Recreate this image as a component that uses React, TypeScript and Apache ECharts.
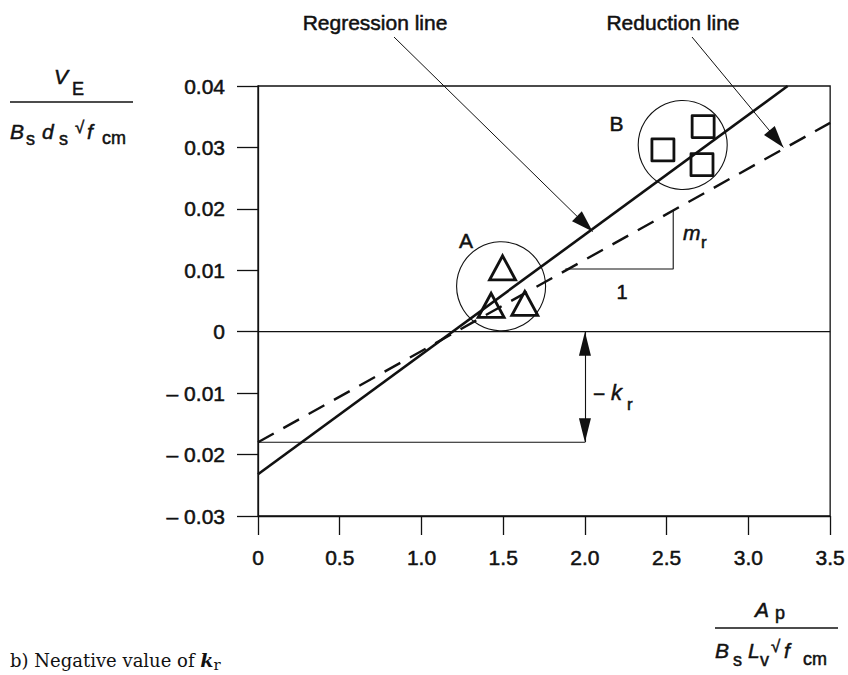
import React, { useEffect, useRef } from 'react';
import * as echarts from 'echarts';

// ---- data ----
const xTickLabels = ['0', '0.5', '1.0', '1.5', '2.0', '2.5', '3.0', '3.5'];
const yTickLabels = ['– 0.03', '– 0.02', '– 0.01', '0', '0.01', '0.02', '0.03', '0.04'];

const regressionLine = [[0, -0.0232], [3.24, 0.04]];
const reductionLine = [[0, -0.018], [3.5, 0.034]];
const zeroLine = [[0, 0], [3.5, 0]];
const slopeTriangle = [[1.88, 0.0102], [2.54, 0.0102], [2.54, 0.0198]];
const krBase = [[0, -0.018], [2.0, -0.018]];

const groupA = [[1.496, 0.0104], [1.426, 0.0043], [1.632, 0.0046]];
const groupB = [[2.477, 0.0296], [2.723, 0.0334], [2.716, 0.0272]];
const groupCircles = [[1.487, 0.0074], [2.598, 0.0304]];
const groupLabels = [
  { name: 'A', value: [1.272, 0.0149] },
  { name: 'B', value: [2.193, 0.0339] },
];

const INK = '#111';
const FONT = "'Liberation Sans', Arial, Helvetica, sans-serif";
const SERIF = "'DejaVu Serif', 'Liberation Serif', serif";
const HEAVY = { textBorderColor: INK, textBorderWidth: 0.5 };

function t(text: string, x: number, y: number, size: number, opts: any = {}) {
  return {
    type: 'text',
    x,
    y,
    silent: true,
    style: {
      text,
      fontSize: size,
      fontFamily: opts.family || FONT,
      fontStyle: opts.italic ? 'italic' : 'normal',
      fontWeight: opts.bold ? 'bold' : 'normal',
      fill: INK,
      stroke: opts.noStroke ? undefined : INK,
      lineWidth: opts.noStroke ? 0 : 0.5,
      align: opts.align || 'left',
      verticalAlign: 'middle',
      textAlign: opts.align || 'left',
      textVerticalAlign: 'middle',
      rich: opts.rich,
    },
  };
}

function hline(x1: number, x2: number, y: number, w = 1.5) {
  return {
    type: 'line',
    silent: true,
    shape: { x1, y1: y, x2, y2: y },
    style: { stroke: INK, lineWidth: w },
  };
}

export default function App() {
  const ref = useRef<HTMLDivElement>(null);

  useEffect(() => {
    const chart = echarts.init(ref.current!, null, { renderer: 'svg' });

    const arrowEnd = (coord: number[]) => ({
      coord,
      symbol: 'triangle',
      symbolSize: [14, 22],
      symbolOffset: [0, 11],
    });

    const option: any = {
      animation: false,
      backgroundColor: '#fff',
      grid: {
        left: 258,
        right: 12,
        top: 86,
        bottom: 159,
        show: true,
        borderColor: INK,
        borderWidth: 1.3,
        backgroundColor: 'transparent',
      },
      xAxis: {
        type: 'value',
        min: 0,
        max: 3.5,
        interval: 0.5,
        axisLine: { show: true, onZero: false, lineStyle: { color: INK, width: 1.3 } },
        axisTick: { show: true, inside: false, length: 19, lineStyle: { color: INK, width: 1.3 } },
        splitLine: { show: false },
        axisLabel: {
          margin: 31,
          fontSize: 21,
          fontFamily: FONT,
          color: INK,
          ...HEAVY,
          formatter: (v: number) => xTickLabels[Math.round(v / 0.5)] ?? '',
        },
      },
      yAxis: {
        type: 'value',
        min: -0.03,
        max: 0.04,
        interval: 0.01,
        axisLine: { show: true, onZero: false, lineStyle: { color: INK, width: 1.3 } },
        axisTick: { show: true, inside: false, length: 21, lineStyle: { color: INK, width: 1.3 } },
        splitLine: { show: false },
        axisLabel: {
          margin: 33,
          fontSize: 21,
          fontFamily: FONT,
          color: INK,
          ...HEAVY,
          formatter: (v: number) => yTickLabels[Math.round((v + 0.03) / 0.01)] ?? '',
        },
      },
      series: [
        {
          type: 'line',
          data: regressionLine,
          symbol: 'none',
          silent: true,
          z: 4,
          lineStyle: { color: INK, width: 2.6 },
          markLine: {
            silent: true,
            symbol: ['none', 'triangle'],
            label: { show: false },
            lineStyle: { color: INK, width: 1, type: 'solid' },
            itemStyle: { color: INK },
            emphasis: { disabled: true },
            data: [
              [{ x: 394, y: 37 }, arrowEnd([2.047, 0.0163])],
              [{ x: 692, y: 37 }, arrowEnd([3.214, 0.0300])],
            ],
          },
        },
        {
          type: 'line',
          data: reductionLine,
          symbol: 'none',
          silent: true,
          z: 4,
          lineStyle: { color: INK, width: 2.4, type: [18, 11] },
        },
        {
          type: 'line',
          data: slopeTriangle,
          symbol: 'none',
          silent: true,
          lineStyle: { color: INK, width: 1.1 },
        },
        {
          type: 'line',
          data: krBase,
          symbol: 'none',
          silent: true,
          lineStyle: { color: INK, width: 1.1 },
          markLine: {
            silent: true,
            symbol: ['triangle', 'triangle'],
            label: { show: false },
            lineStyle: { color: INK, width: 1.1, type: 'solid' },
            itemStyle: { color: INK },
            emphasis: { disabled: true },
            data: [
              [
                { coord: [2.0, 0], symbol: 'triangle', symbolSize: [12, 24], symbolOffset: [0, 12] },
                { coord: [2.0, -0.018], symbol: 'triangle', symbolSize: [12, 24], symbolOffset: [0, 12] },
              ],
            ],
          },
        },
        {
          type: 'line',
          data: zeroLine,
          symbol: 'none',
          silent: true,
          lineStyle: { color: INK, width: 1.3 },
        },
        {
          type: 'scatter',
          data: groupCircles,
          symbol: 'circle',
          symbolSize: 89,
          silent: true,
          itemStyle: { color: 'rgba(0,0,0,0)', borderColor: INK, borderWidth: 1.1, opacity: 1 },
        },
        {
          type: 'scatter',
          data: groupA,
          symbol: 'triangle',
          symbolSize: [26, 24],
          silent: true,
          z: 5,
          itemStyle: { color: 'rgba(0,0,0,0)', borderColor: INK, borderWidth: 2.8, opacity: 1 },
        },
        {
          type: 'scatter',
          data: groupB,
          symbol: 'rect',
          symbolSize: 22,
          silent: true,
          z: 5,
          itemStyle: { color: 'rgba(0,0,0,0)', borderColor: INK, borderWidth: 2.8, opacity: 1, borderJoin: 'round' },
        },
        {
          type: 'scatter',
          data: groupLabels,
          symbol: 'circle',
          symbolSize: 1,
          silent: true,
          itemStyle: { color: 'rgba(0,0,0,0)', opacity: 1 },
          label: {
            show: true,
            position: 'inside',
            formatter: '{b}',
            fontSize: 21,
            fontFamily: FONT,
            color: INK,
            ...HEAVY,
          },
        },
      ],
      graphic: [
        // top annotations
        t('Regression line', 375, 22, 21, { align: 'center' }),
        t('Reduction line', 673, 22, 21, { align: 'center' }),
        // slope triangle labels
        t('m', 683, 232, 21, { italic: true }),
        t('r', 701, 242, 17),
        t('1', 622, 292, 20, { align: 'center' }),
        // -k_r label
        t('−', 593, 393, 21),
        t('k', 611, 392, 22, { italic: true }),
        t('r', 627, 404, 17),
        // y-axis title (fraction)
        t('V', 54, 76, 21, { italic: true }),
        t('E', 72, 89, 18),
        hline(10, 133, 102),
        t('B', 10, 131, 21, { italic: true }),
        t('s', 26, 139, 18),
        t('d', 42, 131, 21, { italic: true }),
        t('s', 59, 139, 18),
        t('√', 75, 127, 17),
        t('f', 87, 131, 21, { italic: true }),
        t('cm', 102, 138, 18),
        // x-axis title (fraction)
        t('A', 755, 609, 21, { italic: true }),
        t('p', 775, 613, 18),
        hline(715, 838, 628),
        t('B', 715, 650, 21, { italic: true }),
        t('s', 733, 660, 18),
        t('L', 748, 650, 21, { italic: true }),
        t('v', 760, 660, 18),
        t('√', 771, 646, 17),
        t('f', 784, 650, 21, { italic: true }),
        t('cm', 803, 659, 18),
        // caption
        t('b) Negative value of {k|k}{r|r}', 10, 660, 18, {
          family: SERIF,
          noStroke: true,
          rich: {
            k: { fontFamily: SERIF, fontSize: 19, fontStyle: 'italic', fontWeight: 'bold', fill: INK },
            r: { fontFamily: SERIF, fontSize: 15, fill: INK, padding: [10, 0, 0, 0] },
          },
        }),
      ],
    };

    chart.setOption(option);
    return () => chart.dispose();
  }, []);

  return (
    <div
      ref={ref}
      style={{ position: 'absolute', left: 0, top: 0, width: 848, height: 675, background: '#fff' }}
    />
  );
}
